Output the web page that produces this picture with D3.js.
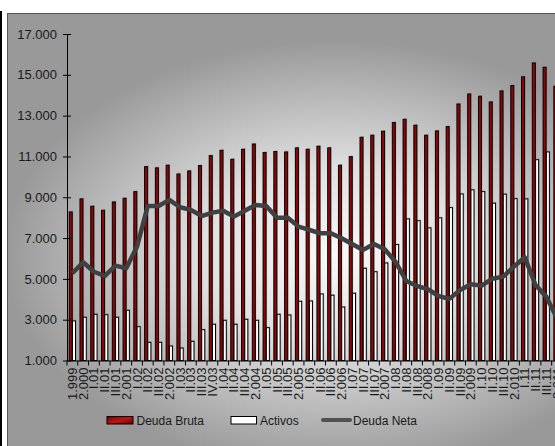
<!DOCTYPE html>
<html><head><meta charset="utf-8">
<script src="https://cdn.jsdelivr.net/npm/d3@7"></script>
<style>html,body{margin:0;padding:0;background:#fff;}svg{display:block;font-family:"Liberation Sans",Arial,sans-serif;}</style>
</head><body>
<script>
const labels = ["1.999","2.000","I.01","II.01","III.01","2.001","I.02","II.02","III.02","2.002","I.03","II.03","III.03","IV.03","I.04","II.04","III.04","2.004","I.05","II.05","III.05","2.005","I.06","II.06","III.06","2.006","I.07","II.07","III.07","2.007","I.08","II.08","III.08","2.008","I.09","II.09","III.09","2.009","I.10","II.10","III.10","2.010","I.11","II.11","III.11","2.011"];
const deudaBruta = [8280,8920,8560,8360,8770,8950,9275,10500,10440,10570,10140,10290,10550,11040,11300,10860,11350,11610,11190,11240,11220,11420,11350,11500,11420,10570,10990,11940,12040,12235,12660,12820,12530,12040,12250,12460,13570,14060,13950,13670,14210,14470,14900,15580,15370,14440];
const activos = [2940,3120,3265,3245,3120,3460,2657,1890,1890,1710,1610,1940,2510,2775,2970,2775,3020,2970,2610,3265,3230,3900,3915,4260,4200,3620,4295,5520,5350,5780,6680,7940,7850,7500,7990,8490,9160,9360,9275,8710,9150,8930,8920,10840,11220,11380];
const deudaNeta = [5275,5815,5350,5140,5650,5520,6580,8575,8575,8870,8510,8380,8080,8245,8340,8050,8340,8620,8575,8000,8000,7560,7400,7235,7235,6990,6700,6420,6710,6450,5840,4900,4650,4500,4160,4020,4450,4735,4670,5010,5110,5600,6060,4700,4130,3070];
const yTicks = [1000,3000,5000,7000,9000,11000,13000,15000,17000];
const yTickLabels = ["1.000","3.000","5.000","7.000","9.000","11.000","13.000","15.000","17.000"];
const seriesNames = ["Deuda Bruta","Activos","Deuda Neta"];

const W = 555, H = 446;
const svg = d3.select("body").append("svg").attr("width", W).attr("height", H);
const defs = svg.append("defs");
const bg = defs.append("radialGradient").attr("id","bg").attr("gradientUnits","userSpaceOnUse")
  .attr("cx",335).attr("cy",255).attr("r",330)
  .attr("gradientTransform","translate(335,255) scale(1,0.65) translate(-335,-255)");
bg.append("stop").attr("offset","0").attr("stop-color","#f8f8f8");
bg.append("stop").attr("offset","0.4").attr("stop-color","#e0e0e0");
bg.append("stop").attr("offset","1").attr("stop-color","#999999");
const rg = defs.append("linearGradient").attr("id","redg").attr("x1","0").attr("y1","0").attr("x2","1").attr("y2","1");
rg.append("stop").attr("offset","0").attr("stop-color","#6a0000");
rg.append("stop").attr("offset","0.5").attr("stop-color","#c01414");
rg.append("stop").attr("offset","1").attr("stop-color","#6a0000");

svg.append("rect").attr("x",0).attr("y",11).attr("width",2).attr("height",H-11).attr("fill","#000");
svg.append("rect").attr("x",7.5).attr("y",13.5).attr("width",560).attr("height",445)
  .attr("fill","url(#bg)").attr("stroke","#555").attr("stroke-width",1);

const x0 = 67, bwPx = 10.77;
const x = d3.scaleBand().domain(labels).range([x0, x0 + labels.length*bwPx]).padding(0);
const y = d3.scaleLinear().domain([1000,17000]).range([360.5,34]);
const bw = x.bandwidth();
const offB = bw*0.205, offA = bw*0.51, barW = bw*0.28;

const g = svg.append("g");
g.selectAll("rect.sb").data(deudaBruta).join("rect")
  .attr("x",(d,i)=>x(labels[i])+offB+1).attr("y",d=>y(d)-1.2)
  .attr("width",barW).attr("height",d=>y(1000)-y(d)+1.2)
  .attr("fill","#707070").attr("opacity",0.35);
g.selectAll("rect.sa").data(activos).join("rect")
  .attr("x",(d,i)=>x(labels[i])+offA+1).attr("y",d=>y(d)-1.2)
  .attr("width",barW).attr("height",d=>y(1000)-y(d)+1.2)
  .attr("fill","#707070").attr("opacity",0.35);

g.selectAll("rect.b").data(deudaBruta).join("rect")
  .attr("x",(d,i)=>x(labels[i])+offB).attr("y",d=>y(d))
  .attr("width",barW).attr("height",d=>y(1000)-y(d))
  .attr("fill","#900606").attr("stroke","#000").attr("stroke-width",1);
g.selectAll("rect.a").data(activos).join("rect")
  .attr("x",(d,i)=>x(labels[i])+offA).attr("y",d=>y(d))
  .attr("width",barW).attr("height",d=>y(1000)-y(d))
  .attr("fill","#fff").attr("stroke","#000").attr("stroke-width",1);

const line = d3.line().x((d,i)=>x(labels[i])+bw/2).y(d=>y(d));
svg.append("path").datum(deudaNeta).attr("d",line).attr("fill","none")
  .attr("stroke","#404040").attr("stroke-width",4.5).attr("stroke-linejoin","round");

const ya = svg.append("g").attr("transform",`translate(${x0},0)`)
  .call(d3.axisLeft(y).tickValues(yTicks).tickSize(4).tickSizeOuter(0).tickPadding(6)
    .tickFormat((d,i)=>yTickLabels[i]));
ya.selectAll(".tick line").attr("x1",4).attr("x2",-4).attr("stroke","#000");
ya.select(".domain").attr("stroke","#000");
ya.selectAll("text").attr("font-size",13).attr("fill","#1a1a1a").attr("font-family","Liberation Sans, Arial, sans-serif");

const xa = svg.append("g").attr("transform",`translate(0,${y(1000)})`)
  .call(d3.axisBottom(x).tickSize(0).tickSizeOuter(0));
xa.select(".domain").attr("stroke","#000");
xa.selectAll(".tick text").attr("transform","rotate(-90)").attr("x",-7).attr("y",0).attr("dy","0.35em")
  .attr("text-anchor","end").attr("font-size",13).attr("fill","#1a1a1a").attr("font-family","Liberation Sans, Arial, sans-serif");
xa.selectAll("line.bt").data(labels).join("line").attr("class","bt")
  .attr("x1",d=>x(d)).attr("x2",d=>x(d)).attr("y1",0).attr("y2",5).attr("stroke","#000");

const lg = svg.append("g").attr("font-size",12).attr("fill","#1a1a1a");
lg.append("rect").attr("x",107).attr("y",416.5).attr("width",26).attr("height",7.5).attr("fill","url(#redg)").attr("stroke","#000");
lg.append("text").attr("x",136.5).attr("y",420.5).attr("dy","0.35em").text(seriesNames[0]);
lg.append("rect").attr("x",231).attr("y",416.5).attr("width",25.5).attr("height",7.5).attr("fill","#fff").attr("stroke","#000");
lg.append("text").attr("x",260).attr("y",420.5).attr("dy","0.35em").text(seriesNames[1]);
lg.append("line").attr("x1",323).attr("x2",350).attr("y1",420).attr("y2",420).attr("stroke","#505050").attr("stroke-width",4).attr("stroke-linecap","round");
lg.append("text").attr("x",353).attr("y",420.5).attr("dy","0.35em").text(seriesNames[2]);
</script>
</body></html>
